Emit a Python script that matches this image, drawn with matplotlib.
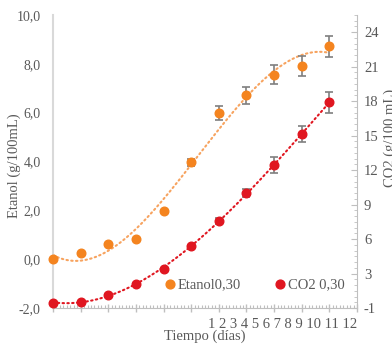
import numpy as np
import matplotlib.pyplot as plt
from matplotlib.ticker import MultipleLocator, AutoMinorLocator

# data
dias = np.arange(0, 11)
etanol = [0.0, 0.24, 0.62, 0.82, 1.98, 3.97, 5.98, 6.71, 7.56, 7.91, 8.72]
etanol_err = [0.0, 0.0, 0.0, 0.0, 0.0, 0.15, 0.3, 0.34, 0.4, 0.41, 0.44]
co2 = [0.46, 0.52, 1.10, 2.11, 3.42, 5.39, 7.6, 9.97, 12.43, 15.13, 17.9]
co2_err = [0.0, 0.0, 0.0, 0.0, 0.0, 0.0, 0.25, 0.35, 0.67, 0.72, 0.94]

left_ticks = [-2, 0, 2, 4, 6, 8, 10]
left_labels = ["-2,0", "0,0", "2,0", "4,0", "6,0", "8,0", "10,0"]
right_ticks = [0, 3, 6, 9, 12, 15, 18, 21, 24]
right_labels = ["-1", "3", "6", "9", "12", "15", "18", "21", "24"]
extra_xlabels = "1 2 3 4 5 6 7 8 9 10 11 12"

orange = "#f4841f"
red = "#e01620"
grey = "#595959"

plt.rcParams["font.family"] = ["Liberation Serif", "DejaVu Serif"]
plt.rcParams["font.size"] = 10

fig = plt.figure(figsize=(3.92, 3.46), dpi=100)
ax = fig.add_axes([53 / 392, 38 / 346, 304 / 392, 293 / 346])
ax2 = ax.twinx()

# trend lines (polynomial fits, like the spreadsheet trendlines)
xx = np.linspace(0, 10, 200)
p_et = np.polyfit(dias, etanol, 3)
p_co = np.polyfit(dias, co2, 3)
ax.plot(xx, np.polyval(p_et, xx), color="#f7a35f", lw=1.5,
        ls=(0, (0.7, 1.6)), dash_capstyle="round", zorder=2)
ax2.plot(xx, np.polyval(p_co, xx), color=red, lw=1.5,
         ls=(0, (0.7, 1.6)), dash_capstyle="round", zorder=2)

# points with error bars
ax.errorbar(dias, etanol, yerr=etanol_err, fmt="o", color=orange, ms=6.2,
            ecolor="#7f7f7f", elinewidth=1.2, capsize=3, capthick=1.2,
            clip_on=False, zorder=3)
ax2.errorbar(dias, co2, yerr=co2_err, fmt="o", color=red, ms=6.2,
             ecolor="#7f7f7f", elinewidth=1.2, capsize=3, capthick=1.2,
             clip_on=False, zorder=3)

ax.set_xlim(0, 11)
ax.set_ylim(-2, 10)
ax2.set_ylim(0, 25.5)

ax.set_yticks(left_ticks)
ax.set_yticklabels(left_labels)
ax2.set_yticks(right_ticks)
ax2.set_yticklabels(right_labels)
ax2.yaxis.set_minor_locator(AutoMinorLocator(6))

ax.xaxis.set_major_locator(MultipleLocator(1))
ax.xaxis.set_minor_locator(AutoMinorLocator(8))
ax.set_xticklabels([])

ax.tick_params(axis="y", length=0, pad=9, colors=grey, labelsize=10)
ax.tick_params(axis="x", which="major", direction="inout", length=6,
               color="#bfbfbf", width=1)
ax.tick_params(axis="x", which="minor", direction="in", length=2.5,
               color="#bfbfbf", width=0.8)
ax2.tick_params(axis="y", which="major", direction="in", length=4,
                color="#bfbfbf", labelcolor=grey, pad=5, labelsize=10.5)
ax2.tick_params(axis="y", which="minor", direction="in", length=2,
                color="#bfbfbf")

for a in (ax, ax2):
    a.spines["top"].set_visible(False)
    a.spines["left"].set_color("#d9d9d9")
    a.spines["left"].set_linewidth(1.5)
    a.spines["bottom"].set_color("#bfbfbf")
    a.spines["right"].set_color("#bfbfbf")
ax.spines["right"].set_visible(False)
ax2.spines["left"].set_visible(False)
ax2.spines["bottom"].set_visible(False)

ax.text(1.0, -0.035, extra_xlabels, transform=ax.transAxes, ha="right",
        va="top", fontsize=10.5, color=grey)

ax.set_xlabel("Tiempo (días)", color=grey, fontsize=10.5)
ax.xaxis.set_label_coords(0.5, -0.072)
ax.set_ylabel("Etanol (g/100mL)", color=grey, fontsize=10.5)
ax.yaxis.set_label_coords(-0.105, 0.485)
ax2.set_ylabel("CO2 (g/100 mL)", color=grey, fontsize=10.5)
ax2.yaxis.set_label_coords(1.086, 0.58)

h1 = ax.scatter([], [], color=orange, s=40)
h2 = ax.scatter([], [], color=red, s=40)
leg = ax.legend([h1, h2], ["Etanol0,30", "CO2 0,30"], ncol=2, frameon=False,
                loc="center", bbox_to_anchor=(0.66, 0.08), handletextpad=0.0,
                columnspacing=2.2, handlelength=1.0, fontsize=10.5)
for t in leg.get_texts():
    t.set_color(grey)

fig.savefig("out.png", dpi=100)
